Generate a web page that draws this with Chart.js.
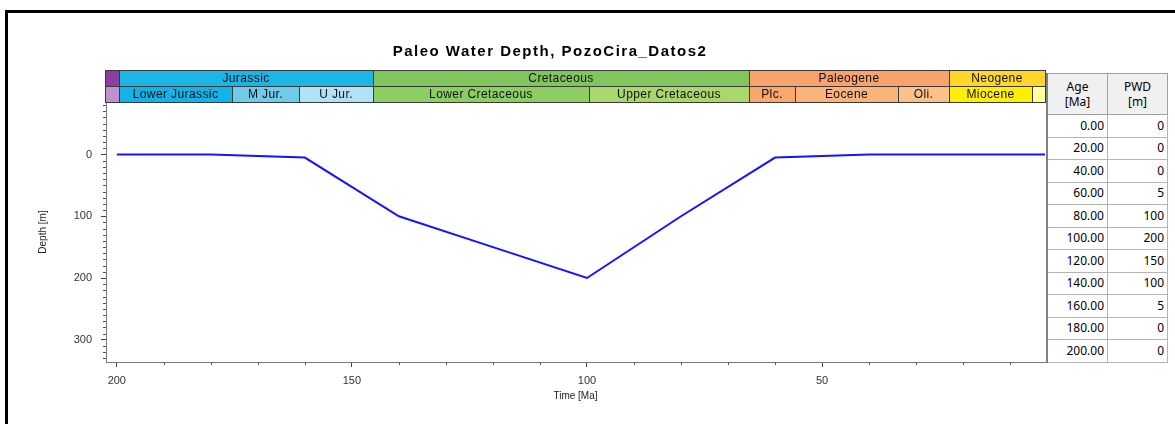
<!DOCTYPE html>
<html lang="en">
<head>
<meta charset="UTF-8">
<title>Paleo Water Depth, PozoCira_Datos2</title>
<script src="https://cdn.jsdelivr.net/npm/chart.js"></script>
<style>
  body { margin: 0; width: 1175px; height: 424px; background: #fff; position: relative; overflow: hidden; }
  .frame { position: absolute; left: 5px; top: 10px; width: 1200px; height: 450px; border-left: 3px solid #000; border-top: 3px solid #000; }
  .wrap { position: absolute; left: 0; top: 0; width: 1046px; height: 424px; }
  table.pwd {
    position: absolute; left: 1046px; top: 73px;
    border-collapse: collapse; font-family: "Noto Sans", sans-serif; font-size: 12px; color: #000;
    border-left: 2px solid #808080;
  }
  table.pwd th {
    background: #f0f0f0; font-weight: normal; height: 40px; line-height: 15px;
    border: 1px solid #a0a0a0; padding: 0; text-align: center;
  }
  table.pwd td {
    height: 21.5px; border: 1px solid #b4b4b4; padding: 0 3px 0 0; text-align: right; line-height: 14px;
  }
  table.pwd td.a { width: 56px; }
  table.pwd td.p { width: 56px; }
</style>
</head>
<body>
<div class="frame"></div>
<div class="wrap"><canvas id="pwdChart" width="1046" height="424"></canvas></div>
<table class="pwd" id="pwdTable"></table>

<script>
  // table / line data
  const ages = [0, 20, 40, 60, 80, 100, 120, 140, 160, 180, 200];
  const pwd  = [0, 0, 0, 5, 100, 200, 150, 100, 5, 0, 0];

  // geologic time scale header (Ma)
  const periodNames  = ['', 'Jurassic', 'Cretaceous', 'Paleogene', 'Neogene'];
  const periodStart  = [230, 199.6, 145.5, 65.5, 23.03];
  const periodEnd    = [199.6, 145.5, 65.5, 23.03, 2.588];
  const periodColors = ['#8e3f9e', '#1cb6e6', '#80c65c', '#f9a26c', '#ffd72a'];

  const epochNames  = ['', 'Lower Jurassic', 'M Jur.', 'U Jur.', 'Lower Cretaceous', 'Upper Cretaceous', 'Plc.', 'Eocene', 'Oli.', 'Miocene', ''];
  const epochStart  = [230, 199.6, 175.6, 161.2, 145.5, 99.6, 65.5, 55.8, 33.9, 23.03, 5.332];
  const epochEnd    = [199.6, 175.6, 161.2, 145.5, 99.6, 65.5, 55.8, 33.9, 23.03, 5.332, 2.588];
  const epochColors = ['#c38fcf', '#12b2ea', '#6ecbe9', '#b2e2f7', '#8cce62', '#a8d76c', '#fba66a', '#fbb37a', '#fcc089', '#fff000', '#ffff9c'];

  // axis ticks
  const xTicks = [200, 190, 180, 170, 160, 150, 140, 130, 120, 110, 100, 90, 80, 70, 60, 50, 40, 30, 20, 10];
  const yTicks = [-80, -70, -60, -50, -40, -30, -20, -10, 0, 10, 20, 30, 40, 50, 60, 70, 80, 90, 100,
                  110, 120, 130, 140, 150, 160, 170, 180, 190, 200, 210, 220, 230, 240, 250, 260, 270,
                  280, 290, 300, 310, 320, 330];

  // fill table
  const tbl = document.getElementById('pwdTable');
  let html = '<tr><th>Age<br>[Ma]</th><th>PWD<br>[m]</th></tr>';
  ages.forEach((a, i) => {
    html += '<tr><td class="a">' + a.toFixed(2) + '</td><td class="p">' + pwd[i] + '</td></tr>';
  });
  tbl.innerHTML = html;

  const FONT = '"Liberation Sans", Arial, sans-serif';

  const headerPlugin = {
    id: 'header',
    afterDraw(chart) {
      const { ctx, chartArea: a, scales: { x, y } } = chart;

      // minor ticks
      ctx.save();
      ctx.strokeStyle = '#555';
      ctx.lineWidth = 1;
      ctx.beginPath();
      y.ticks.forEach(t => {
        if (t.value % 100 !== 0) {
          const py = Math.round(y.getPixelForValue(t.value)) + 0.5;
          ctx.moveTo(a.left - 3, py); ctx.lineTo(a.left, py);
        }
      });
      x.ticks.forEach(t => {
        if (t.value % 50 !== 0) {
          const px = Math.round(x.getPixelForValue(t.value)) + 0.5;
          ctx.moveTo(px, a.bottom); ctx.lineTo(px, a.bottom + 3);
        }
      });
      ctx.stroke();
      ctx.restore();

      // time scale bands
      const rowH = 16;
      const drawRow = (names, starts, ends, colors, top) => {
        names.forEach((n, i) => {
          let x1 = x.getPixelForValue(starts[i]);
          let x2 = x.getPixelForValue(ends[i]);
          x1 = Math.max(Math.round(x1), Math.round(a.left) - 1);
          x2 = Math.min(Math.round(x2), Math.round(a.right));
          if (x2 <= x1) return;
          ctx.fillStyle = colors[i];
          ctx.fillRect(x1, top, x2 - x1, rowH);
          ctx.strokeStyle = '#3a3a3a';
          ctx.lineWidth = 1;
          ctx.strokeRect(x1 + 0.5, top + 0.5, x2 - x1, rowH);
          if (n) {
            ctx.fillStyle = '#111';
            ctx.font = '12px ' + FONT;
            ctx.letterSpacing = '0.4px';
            ctx.textAlign = 'center';
            ctx.textBaseline = 'middle';
            ctx.fillText(n, (x1 + x2) / 2, top + rowH / 2 + 1);
          }
        });
      };
      ctx.save();
      drawRow(periodNames, periodStart, periodEnd, periodColors, a.top - 2 * rowH);
      drawRow(epochNames, epochStart, epochEnd, epochColors, a.top - rowH);

      // title
      ctx.fillStyle = '#000';
      ctx.font = 'bold 15px ' + FONT;
      ctx.letterSpacing = '1.5px';
      ctx.textAlign = 'center';
      ctx.textBaseline = 'middle';
      ctx.fillText('Paleo Water Depth, PozoCira_Datos2', 550, 52);
      ctx.letterSpacing = '0px';
      ctx.restore();
    }
  };

  new Chart(document.getElementById('pwdChart'), {
    type: 'line',
    data: {
      datasets: [{
        label: 'PWD',
        data: ages.map((a, i) => ({ x: a, y: pwd[i] })),
        borderColor: '#1414ff',
        borderWidth: 2,
        pointRadius: 0,
        tension: 0,
        fill: false
      }]
    },
    options: {
      responsive: false,
      animation: false,
      layout: { padding: { top: 102, left: 0, right: 1, bottom: 0 } },
      plugins: { legend: { display: false }, tooltip: { enabled: false } },
      scales: {
        x: {
          type: 'linear',
          reverse: true,
          min: 2.588,
          max: 202.3,
          afterBuildTicks: s => { s.ticks = xTicks.map(v => ({ value: v })); },
          afterFit: s => { s.height = 62; },
          ticks: {
            autoSkip: false, maxRotation: 0, padding: 7,
            color: '#333', font: { family: FONT, size: 11 },
            callback: v => (v % 50 === 0 ? v : '')
          },
          grid: {
            drawOnChartArea: false, tickLength: 5,
            tickColor: c => (c.tick && c.tick.value % 50 === 0 ? '#444' : 'rgba(0,0,0,0)')
          },
          border: { color: '#7a7a7a' },
          title: {
            display: true, text: 'Time [Ma]', color: '#222',
            font: { family: FONT, size: 10 }, padding: { top: 0, bottom: 22 }
          }
        },
        y: {
          type: 'linear',
          reverse: true,
          min: -85,
          max: 336,
          afterBuildTicks: s => { s.ticks = yTicks.map(v => ({ value: v })); },
          afterFit: s => { s.width = 106; },
          ticks: {
            autoSkip: false, padding: 9,
            color: '#333', font: { family: FONT, size: 11 },
            callback: v => (v % 100 === 0 ? v : '')
          },
          grid: {
            drawOnChartArea: false, tickLength: 5,
            tickColor: c => (c.tick && c.tick.value % 100 === 0 ? '#444' : 'rgba(0,0,0,0)')
          },
          border: { color: '#7a7a7a' },
          title: {
            display: true, text: 'Depth [m]', color: '#222',
            font: { family: FONT, size: 10 }, padding: { top: 37, bottom: 0 }
          }
        }
      }
    },
    plugins: [headerPlugin]
  });
</script>
</body>
</html>
